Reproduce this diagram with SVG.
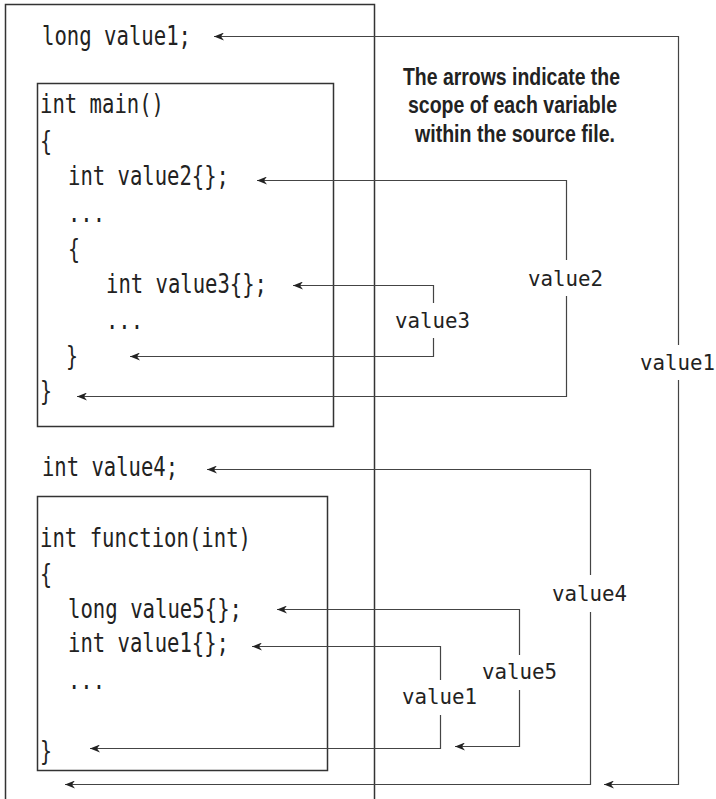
<svg xmlns="http://www.w3.org/2000/svg" width="716" height="799" viewBox="0 0 716 799">
<defs>
<style>
.box{fill:none;stroke:#333;stroke-width:1.5}
.code{font-family:"DejaVu Sans Mono","Liberation Mono",monospace;font-size:26px;fill:#222}
.lbl{font-family:"DejaVu Sans Mono","Liberation Mono",monospace;font-size:21px;fill:#222}
.note{font-family:"Liberation Sans",Arial,sans-serif;font-size:23px;font-weight:bold;fill:#222}
.con{fill:none;stroke:#444;stroke-width:1.2}
.arr{fill:none;stroke:#444;stroke-width:1.2;marker-end:url(#ah)}
</style>
<marker id="ah" viewBox="0 0 10 8" refX="10" refY="4" markerWidth="10" markerHeight="8" markerUnits="userSpaceOnUse" orient="auto">
<path d="M0,0 L10,4 L0,8 L3,4 z" fill="#222"/>
</marker>
</defs>
<rect width="716" height="799" fill="#fff"/>
<g id="outer-file">
<rect class="box" x="5.5" y="4.5" width="369" height="810"/>
<text class="code" x="42" y="45" textLength="149" lengthAdjust="spacingAndGlyphs">long value1;</text>
<text class="code" x="42" y="476" textLength="136" lengthAdjust="spacingAndGlyphs">int value4;</text>
<text class="code" x="40" y="400" textLength="12" lengthAdjust="spacingAndGlyphs">}</text>
</g>
<g id="main-func">
<rect class="box" x="37.5" y="83.5" width="296" height="343"/>
<text class="code" x="40" y="113" textLength="124" lengthAdjust="spacingAndGlyphs">int main()</text>
<text class="code" x="40" y="150" textLength="12" lengthAdjust="spacingAndGlyphs">{</text>
<text class="code" x="68" y="185" textLength="161" lengthAdjust="spacingAndGlyphs">int value2{};</text>
<text class="code" x="68" y="222" textLength="37" lengthAdjust="spacingAndGlyphs">...</text>
<text class="code" x="68" y="258" textLength="12" lengthAdjust="spacingAndGlyphs">{</text>
<text class="code" x="106" y="293" textLength="161" lengthAdjust="spacingAndGlyphs">int value3{};</text>
<text class="code" x="106" y="329" textLength="37" lengthAdjust="spacingAndGlyphs">...</text>
<text class="code" x="66" y="365" textLength="12" lengthAdjust="spacingAndGlyphs">}</text>
</g>
<g id="function-func">
<rect class="box" x="37.5" y="496.5" width="290" height="274"/>
<text class="code" x="40" y="547" textLength="211" lengthAdjust="spacingAndGlyphs">int function(int)</text>
<text class="code" x="40" y="583" textLength="12" lengthAdjust="spacingAndGlyphs">{</text>
<text class="code" x="68" y="618" textLength="174" lengthAdjust="spacingAndGlyphs">long value5{};</text>
<text class="code" x="68" y="652" textLength="161" lengthAdjust="spacingAndGlyphs">int value1{};</text>
<text class="code" x="68" y="689" textLength="37" lengthAdjust="spacingAndGlyphs">...</text>
<text class="code" x="40" y="760" textLength="12" lengthAdjust="spacingAndGlyphs">}</text>
</g>
<g id="note">
<text class="note" x="403" y="85" textLength="217" lengthAdjust="spacingAndGlyphs">The arrows indicate the</text>
<text class="note" x="408" y="113" textLength="209" lengthAdjust="spacingAndGlyphs">scope of each variable</text>
<text class="note" x="415" y="142" textLength="200" lengthAdjust="spacingAndGlyphs">within the source file.</text>
</g>
<g id="connectors">
<path class="arr" d="M678.5,345 V36.5 H214"/>
<path class="arr" d="M678.5,380 V784.5 H604"/>
<text class="lbl" x="640" y="370" textLength="75" lengthAdjust="spacingAndGlyphs">value1</text>
<path class="arr" d="M566.5,260 V180.5 H257"/>
<path class="arr" d="M566.5,296 V396.5 H77"/>
<text class="lbl" x="528" y="286" textLength="75" lengthAdjust="spacingAndGlyphs">value2</text>
<path class="arr" d="M433.5,303 V285.5 H293"/>
<path class="arr" d="M433.5,338 V356.5 H130"/>
<text class="lbl" x="395" y="328" textLength="75" lengthAdjust="spacingAndGlyphs">value3</text>
<path class="arr" d="M590.5,575 V469.5 H207"/>
<path class="arr" d="M590.5,612 V784.5 H65"/>
<text class="lbl" x="552" y="601" textLength="75" lengthAdjust="spacingAndGlyphs">value4</text>
<path class="arr" d="M519.5,655 V609.5 H277"/>
<path class="arr" d="M519.5,690 V746.5 H455"/>
<text class="lbl" x="482" y="679" textLength="75" lengthAdjust="spacingAndGlyphs">value5</text>
<path class="arr" d="M440.5,680 V646.5 H252"/>
<path class="arr" d="M440.5,715 V748.5 H90"/>
<text class="lbl" x="402" y="704" textLength="75" lengthAdjust="spacingAndGlyphs">value1</text>
</g>
</svg>
